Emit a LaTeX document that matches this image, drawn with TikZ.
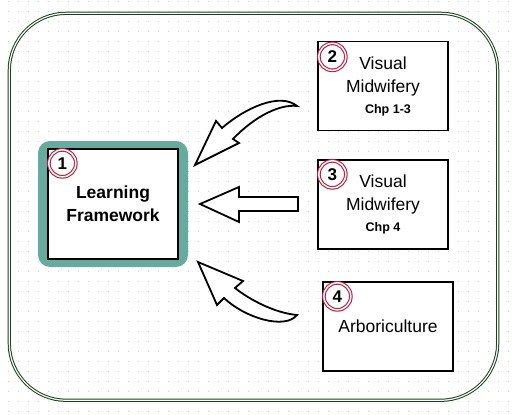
\documentclass[tikz,border=0pt]{standalone}
\usepackage{fontspec}
\setmainfont{Liberation Sans}
\usetikzlibrary{positioning}
\definecolor{teal1}{HTML}{67AB9F}
\definecolor{ring}{RGB}{190,25,60}
\definecolor{frame}{RGB}{25,65,25}
\definecolor{dotgray}{RGB}{205,205,205}
\newcommand{\bigfnt}{\fontsize{17.5}{23}\selectfont}
\newcommand{\chpfnt}{\fontsize{12.5}{14}\selectfont\bfseries}
\tikzset{
  box/.style={draw=black, line width=1.3pt, fill=white, minimum width=130pt,
              minimum height=89pt, align=center, font=\bigfnt},
  num/.style={circle, draw=ring, double=white, double distance=1.5pt, line width=1.1pt,
              minimum size=27pt, inner sep=0pt, font=\fontsize{17}{17}\selectfont\bfseries},
  blockarrow/.style={draw=black, line width=1.8pt, fill=white, line join=miter}
}
\begin{document}
\begin{tikzpicture}[x=1pt,y=-1pt]
\useasboundingbox (0,0) rectangle (515,415);
\fill[white] (0,0) rectangle (515,415);
% grid
\foreach \i in {0,...,50}
  \foreach \j in {0,...,41}
    \fill[dotgray] (8+10*\i,1+10*\j) rectangle +(1,1);

% container
\draw[frame, double=white, double distance=1.2pt, line width=1pt, rounded corners=57pt]
  (9.3,13.3) rectangle (497.7,400.3);

% learning framework
\fill[teal1, rounded corners=12pt] (38,141) rectangle (188,267);
\node[box, minimum height=110pt, font=\bigfnt\bfseries] (lf) at (113,204) {Learning\\Framework};
\node[num] (n1) at ([shift={(15,15)}]lf.north west) {1};

% sources
\node[box] (vm1) at (383,86) {Visual\\Midwifery\\[-2pt]{\chpfnt\hspace*{10pt}Chp 1-3}};
\node[num] (n2) at ([shift={(15,16)}]vm1.north west) {2};

\node[box] (vm2) at (383,204.5) {Visual\\Midwifery\\[-2pt]{\chpfnt Chp 4}};
\node[num] (n3) at ([shift={(15,15)}]vm2.north west) {3};

\node[box] (arb) at (388,326.5) {Arboriculture};
\node[num] (n4) at ([shift={(15,15)}]arb.north west) {4};

% arrows
\draw[blockarrow] (195,165) -- (216,121) -- (222,128)
  .. controls (245,108) and (280,92) .. (297,106)
  .. controls (280,104) and (255,116) .. (233,139)
  -- (239,143) -- cycle;
\draw[blockarrow] (200,204) -- (239,187) -- (239,197) -- (298,197)
  -- (298,211) -- (239,211) -- (239,222) -- cycle;
\draw[blockarrow] (198,262) -- (243,281) -- (235,288)
  .. controls (250,300) and (275,313) .. (297,315)
  .. controls (285,330) and (245,318) .. (224,298)
  -- (217,305) -- cycle;
\end{tikzpicture}
\end{document}
